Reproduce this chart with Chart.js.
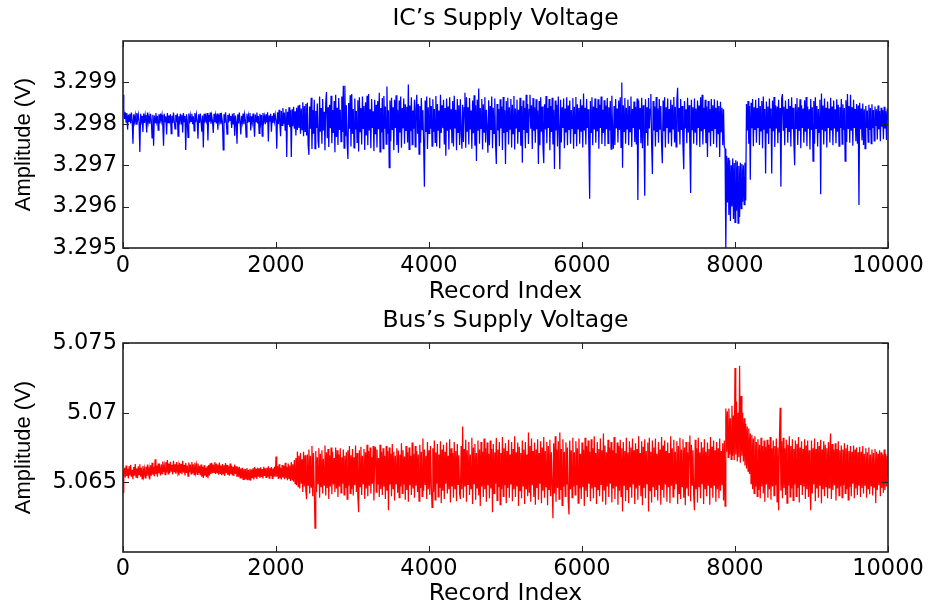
<!DOCTYPE html>
<html>
<head>
<meta charset="utf-8">
<script src="https://cdn.jsdelivr.net/npm/chart.js@4"></script>
<style>
  body { margin: 0; background: #fff; }
  .panel { position: absolute; left: 0; }
</style>
</head>
<body>
<div class="panel" style="top:0"><canvas id="icChart" width="928" height="306"></canvas></div>
<div class="panel" style="top:306px"><canvas id="busChart" width="928" height="302"></canvas></div>
<script>
// one sample every 10 records, 0 .. 10000 (each line = 100 records)
const STEP = 10;

// IC's supply voltage (V)
const icVoltage = [
  3.29870, 3.29835, 3.29812, 3.29828, 3.29804, 3.29826, 3.29786, 3.29822, 3.29806, 3.29824,
  3.29801, 3.29827, 3.29808, 3.29752, 3.29823, 3.29805, 3.29820, 3.29799, 3.29826, 3.29809,
  3.29822, 3.29803, 3.29732, 3.29824, 3.29807, 3.29819, 3.29780, 3.29825, 3.29802, 3.29821,
  3.29806, 3.29779, 3.29827, 3.29804, 3.29818, 3.29800, 3.29824, 3.29808, 3.29766, 3.29822,
  3.29747, 3.29820, 3.29803, 3.29826, 3.29806, 3.29819, 3.29785, 3.29823, 3.29801, 3.29825,
  3.29807, 3.29821, 3.29798, 3.29747, 3.29824, 3.29805, 3.29818, 3.29774, 3.29826, 3.29803,
  3.29820, 3.29808, 3.29823, 3.29776, 3.29819, 3.29802, 3.29827, 3.29806, 3.29788, 3.29821,
  3.29804, 3.29825, 3.29770, 3.29818, 3.29807, 3.29824, 3.29800, 3.29822, 3.29779, 3.29826,
  3.29805, 3.29819, 3.29737, 3.29823, 3.29808, 3.29767, 3.29825, 3.29801, 3.29820, 3.29806,
  3.29824, 3.29799, 3.29818, 3.29783, 3.29826, 3.29804, 3.29822, 3.29807, 3.29764, 3.29823,
  3.29802, 3.29825, 3.29806, 3.29781, 3.29820, 3.29743, 3.29824, 3.29803, 3.29818, 3.29808,
  3.29826, 3.29760, 3.29821, 3.29805, 3.29827, 3.29800, 3.29819, 3.29806, 3.29778, 3.29824,
  3.29804, 3.29820, 3.29801, 3.29825, 3.29786, 3.29822, 3.29807, 3.29826, 3.29799, 3.29818,
  3.29805, 3.29737, 3.29823, 3.29802, 3.29828, 3.29806, 3.29775, 3.29821, 3.29803, 3.29825,
  3.29808, 3.29819, 3.29790, 3.29824, 3.29800, 3.29826, 3.29771, 3.29820, 3.29805, 3.29752,
  3.29823, 3.29801, 3.29827, 3.29806, 3.29774, 3.29819, 3.29804, 3.29825, 3.29799, 3.29822,
  3.29807, 3.29768, 3.29824, 3.29802, 3.29820, 3.29806, 3.29826, 3.29784, 3.29818, 3.29803,
  3.29825, 3.29800, 3.29769, 3.29822, 3.29805, 3.29827, 3.29801, 3.29819, 3.29777, 3.29824,
  3.29804, 3.29821, 3.29770, 3.29826, 3.29806, 3.29818, 3.29799, 3.29823, 3.29803, 3.29828,
  3.29757, 3.29820, 3.29805, 3.29824, 3.29781, 3.29819, 3.29802, 3.29826, 3.29806, 3.29822,
  3.29808, 3.29740, 3.29828, 3.29799, 3.29834, 3.29802, 3.29770, 3.29831, 3.29796, 3.29838,
  3.29800, 3.29827, 3.29785, 3.29836, 3.29720, 3.29829, 3.29797, 3.29840, 3.29792, 3.29833,
  3.29720, 3.29835, 3.29794, 3.29841, 3.29788, 3.29830, 3.29772, 3.29839, 3.29785, 3.29844,
  3.29790, 3.29846, 3.29776, 3.29837, 3.29786, 3.29852, 3.29770, 3.29843, 3.29782, 3.29848,
  3.29772, 3.29851, 3.29748, 3.29725, 3.29842, 3.29788, 3.29863, 3.29739, 3.29833, 3.29776,
  3.29858, 3.29740, 3.29831, 3.29790, 3.29849, 3.29758, 3.29742, 3.29866, 3.29781, 3.29838,
  3.29752, 3.29860, 3.29784, 3.29829, 3.29736, 3.29851, 3.29877, 3.29765, 3.29840, 3.29744,
  3.29846, 3.29789, 3.29868, 3.29753, 3.29833, 3.29778, 3.29855, 3.29731, 3.29870, 3.29768,
  3.29839, 3.29749, 3.29862, 3.29785, 3.29834, 3.29757, 3.29866, 3.29780, 3.29892, 3.29741,
  3.29892, 3.29770, 3.29845, 3.29752, 3.29715, 3.29850, 3.29788, 3.29869, 3.29745, 3.29872,
  3.29776, 3.29836, 3.29742, 3.29861, 3.29786, 3.29831, 3.29755, 3.29857, 3.29733, 3.29864,
  3.29781, 3.29838, 3.29750, 3.29866, 3.29789, 3.29843, 3.29737, 3.29852, 3.29772, 3.29868,
  3.29748, 3.29872, 3.29784, 3.29835, 3.29741, 3.29860, 3.29790, 3.29830, 3.29734, 3.29858,
  3.29775, 3.29846, 3.29743, 3.29855, 3.29787, 3.29875, 3.29732, 3.29838, 3.29779, 3.29862,
  3.29740, 3.29867, 3.29788, 3.29842, 3.29751, 3.29890, 3.29776, 3.29833, 3.29694, 3.29856,
  3.29758, 3.29863, 3.29785, 3.29840, 3.29736, 3.29858, 3.29790, 3.29869, 3.29749, 3.29834,
  3.29730, 3.29856, 3.29779, 3.29866, 3.29742, 3.29838, 3.29789, 3.29861, 3.29752, 3.29847,
  3.29784, 3.29841, 3.29755, 3.29895, 3.29738, 3.29844, 3.29782, 3.29864, 3.29750, 3.29832,
  3.29788, 3.29858, 3.29744, 3.29837, 3.29870, 3.29776, 3.29848, 3.29727, 3.29843, 3.29754,
  3.29862, 3.29786, 3.29833, 3.29748, 3.29648, 3.29856, 3.29780, 3.29866, 3.29739, 3.29840,
  3.29777, 3.29863, 3.29788, 3.29843, 3.29746, 3.29859, 3.29781, 3.29836, 3.29755, 3.29867,
  3.29745, 3.29848, 3.29785, 3.29832, 3.29741, 3.29870, 3.29778, 3.29845, 3.29789, 3.29858,
  3.29750, 3.29838, 3.29723, 3.29861, 3.29783, 3.29842, 3.29738, 3.29864, 3.29786, 3.29835,
  3.29753, 3.29855, 3.29745, 3.29868, 3.29790, 3.29834, 3.29736, 3.29860, 3.29779, 3.29845,
  3.29749, 3.29859, 3.29784, 3.29740, 3.29846, 3.29756, 3.29839, 3.29875, 3.29742, 3.29864,
  3.29781, 3.29840, 3.29750, 3.29862, 3.29786, 3.29832, 3.29740, 3.29856, 3.29777, 3.29869,
  3.29747, 3.29845, 3.29710, 3.29858, 3.29783, 3.29885, 3.29752, 3.29838, 3.29789, 3.29860,
  3.29738, 3.29847, 3.29780, 3.29864, 3.29755, 3.29834, 3.29790, 3.29730, 3.29857, 3.29748,
  3.29843, 3.29785, 3.29866, 3.29741, 3.29839, 3.29777, 3.29861, 3.29752, 3.29703, 3.29848,
  3.29784, 3.29836, 3.29746, 3.29859, 3.29789, 3.29842, 3.29737, 3.29865, 3.29778, 3.29833,
  3.29703, 3.29855, 3.29782, 3.29863, 3.29750, 3.29840, 3.29787, 3.29860, 3.29743, 3.29846,
  3.29776, 3.29867, 3.29738, 3.29837, 3.29790, 3.29858, 3.29752, 3.29834, 3.29780, 3.29863,
  3.29747, 3.29843, 3.29706, 3.29856, 3.29785, 3.29839, 3.29741, 3.29870, 3.29778, 3.29848,
  3.29751, 3.29835, 3.29870, 3.29788, 3.29845, 3.29739, 3.29862, 3.29783, 3.29840, 3.29754,
  3.29859, 3.29787, 3.29832, 3.29703, 3.29855, 3.29748, 3.29864, 3.29781, 3.29842, 3.29743,
  3.29705, 3.29847, 3.29786, 3.29867, 3.29753, 3.29838, 3.29790, 3.29860, 3.29736, 3.29843,
  3.29780, 3.29863, 3.29750, 3.29834, 3.29691, 3.29856, 3.29784, 3.29846, 3.29745, 3.29866,
  3.29788, 3.29690, 3.29858, 3.29755, 3.29840, 3.29790, 3.29861, 3.29741, 3.29837, 3.29779,
  3.29864, 3.29748, 3.29844, 3.29785, 3.29856, 3.29752, 3.29833, 3.29789, 3.29862, 3.29740,
  3.29841, 3.29777, 3.29865, 3.29746, 3.29847, 3.29788, 3.29838, 3.29752, 3.29859, 3.29781,
  3.29845, 3.29743, 3.29873, 3.29784, 3.29839, 3.29750, 3.29860, 3.29790, 3.29835, 3.29738,
  3.29619, 3.29855, 3.29779, 3.29864, 3.29748, 3.29842, 3.29786, 3.29861, 3.29754, 3.29838,
  3.29782, 3.29859, 3.29740, 3.29846, 3.29790, 3.29866, 3.29751, 3.29834, 3.29778, 3.29857,
  3.29746, 3.29844, 3.29787, 3.29862, 3.29753, 3.29840, 3.29784, 3.29855, 3.29739, 3.29868,
  3.29780, 3.29740, 3.29843, 3.29749, 3.29860, 3.29789, 3.29837, 3.29755, 3.29856, 3.29785,
  3.29864, 3.29743, 3.29900, 3.29694, 3.29845, 3.29782, 3.29862, 3.29752, 3.29839, 3.29788,
  3.29858, 3.29748, 3.29843, 3.29781, 3.29866, 3.29744, 3.29836, 3.29790, 3.29854, 3.29756,
  3.29841, 3.29750, 3.29861, 3.29616, 3.29856, 3.29786, 3.29838, 3.29753, 3.29863, 3.29741,
  3.29845, 3.29783, 3.29626, 3.29859, 3.29778, 3.29840, 3.29747, 3.29862, 3.29789, 3.29835,
  3.29872, 3.29752, 3.29679, 3.29855, 3.29784, 3.29842, 3.29745, 3.29865, 3.29780, 3.29837,
  3.29754, 3.29860, 3.29787, 3.29843, 3.29749, 3.29705, 3.29856, 3.29782, 3.29864, 3.29743,
  3.29840, 3.29790, 3.29861, 3.29752, 3.29836, 3.29779, 3.29858, 3.29746, 3.29846, 3.29788,
  3.29865, 3.29755, 3.29841, 3.29744, 3.29856, 3.29887, 3.29781, 3.29838, 3.29750, 3.29860,
  3.29785, 3.29843, 3.29746, 3.29690, 3.29855, 3.29789, 3.29835, 3.29753, 3.29863, 3.29779,
  3.29845, 3.29741, 3.29633, 3.29858, 3.29786, 3.29840, 3.29752, 3.29861, 3.29780, 3.29837,
  3.29748, 3.29856, 3.29790, 3.29844, 3.29744, 3.29864, 3.29782, 3.29870, 3.29750, 3.29839,
  3.29787, 3.29858, 3.29753, 3.29842, 3.29720, 3.29855, 3.29779, 3.29836, 3.29746, 3.29860,
  3.29784, 3.29845, 3.29751, 3.29859, 3.29789, 3.29839, 3.29743, 3.29856, 3.29776, 3.29843,
  3.29720, 3.29853, 3.29781, 3.29839, 3.29748, 3.29835, 3.29744, 3.29740, 3.29500, 3.29722,
  3.29610, 3.29718, 3.29580, 3.29712, 3.29565, 3.29700, 3.29600, 3.29716, 3.29570, 3.29705,
  3.29562, 3.29712, 3.29590, 3.29709, 3.29560, 3.29698, 3.29575, 3.29706, 3.29595, 3.29703,
  3.29612, 3.29700, 3.29605, 3.29706, 3.29615, 3.29848, 3.29784, 3.29855, 3.29752, 3.29843,
  3.29665, 3.29851, 3.29789, 3.29860, 3.29746, 3.29840, 3.29785, 3.29858, 3.29754, 3.29838,
  3.29790, 3.29862, 3.29749, 3.29843, 3.29783, 3.29855, 3.29741, 3.29866, 3.29787, 3.29836,
  3.29680, 3.29854, 3.29778, 3.29842, 3.29751, 3.29861, 3.29790, 3.29837, 3.29680, 3.29856,
  3.29782, 3.29865, 3.29744, 3.29845, 3.29789, 3.29842, 3.29753, 3.29858, 3.29779, 3.29838,
  3.29648, 3.29861, 3.29872, 3.29785, 3.29841, 3.29748, 3.29856, 3.29790, 3.29836, 3.29754,
  3.29860, 3.29780, 3.29843, 3.29745, 3.29864, 3.29787, 3.29839, 3.29752, 3.29700, 3.29848,
  3.29789, 3.29862, 3.29749, 3.29840, 3.29783, 3.29859, 3.29741, 3.29845, 3.29790, 3.29837,
  3.29754, 3.29857, 3.29781, 3.29865, 3.29746, 3.29842, 3.29788, 3.29835, 3.29738, 3.29860,
  3.29785, 3.29840, 3.29710, 3.29855, 3.29752, 3.29864, 3.29789, 3.29843, 3.29745, 3.29836,
  3.29779, 3.29858, 3.29630, 3.29873, 3.29787, 3.29844, 3.29750, 3.29861, 3.29782, 3.29839,
  3.29743, 3.29854, 3.29790, 3.29837, 3.29755, 3.29863, 3.29784, 3.29842, 3.29748, 3.29856,
  3.29789, 3.29835, 3.29753, 3.29859, 3.29781, 3.29846, 3.29746, 3.29840, 3.29790, 3.29860,
  3.29751, 3.29847, 3.29785, 3.29838, 3.29710, 3.29857, 3.29756, 3.29872, 3.29789, 3.29843,
  3.29754, 3.29870, 3.29783, 3.29840, 3.29747, 3.29858, 3.29790, 3.29836, 3.29758, 3.29848,
  3.29752, 3.29844, 3.29604, 3.29851, 3.29787, 3.29837, 3.29760, 3.29849, 3.29749, 3.29835,
  3.29740, 3.29843, 3.29790, 3.29832, 3.29756, 3.29846, 3.29785, 3.29838, 3.29752, 3.29847,
  3.29790, 3.29833, 3.29759, 3.29842, 3.29795, 3.29835, 3.29762, 3.29844, 3.29787, 3.29831,
  3.29758, 3.29839, 3.29793, 3.29833, 3.29763, 3.29841, 3.29789, 3.29830, 3.29761, 3.29837,
  3.29808
];

// Bus's supply voltage (V)
const busVoltage = [
  5.06430, 5.06560, 5.06605, 5.06535, 5.06620, 5.06545, 5.06598, 5.06528, 5.06615, 5.06550,
  5.06625, 5.06540, 5.06590, 5.06522, 5.06610, 5.06548, 5.06632, 5.06537, 5.06600, 5.06530,
  5.06615, 5.06555, 5.06630, 5.06540, 5.06605, 5.06525, 5.06618, 5.06550, 5.06595, 5.06532,
  5.06612, 5.06545, 5.06628, 5.06560, 5.06600, 5.06520, 5.06622, 5.06548, 5.06640, 5.06555,
  5.06610, 5.06543, 5.06665, 5.06558, 5.06620, 5.06540, 5.06635, 5.06565, 5.06605, 5.06550,
  5.06630, 5.06562, 5.06650, 5.06575, 5.06620, 5.06555, 5.06645, 5.06570, 5.06660, 5.06560,
  5.06635, 5.06568, 5.06648, 5.06580, 5.06625, 5.06557, 5.06655, 5.06573, 5.06630, 5.06562,
  5.06645, 5.06578, 5.06620, 5.06550, 5.06640, 5.06565, 5.06632, 5.06558, 5.06655, 5.06570,
  5.06625, 5.06550, 5.06638, 5.06567, 5.06620, 5.06545, 5.06642, 5.06572, 5.06628, 5.06560,
  5.06646, 5.06566, 5.06630, 5.06555, 5.06640, 5.06575, 5.06622, 5.06558, 5.06635, 5.06565,
  5.06618, 5.06552, 5.06628, 5.06540, 5.06612, 5.06532, 5.06622, 5.06548, 5.06605, 5.06538,
  5.06615, 5.06530, 5.06625, 5.06548, 5.06636, 5.06560, 5.06640, 5.06565, 5.06628, 5.06572,
  5.06645, 5.06560, 5.06635, 5.06570, 5.06628, 5.06555, 5.06642, 5.06565, 5.06620, 5.06552,
  5.06632, 5.06560, 5.06622, 5.06545, 5.06638, 5.06565, 5.06625, 5.06553, 5.06615, 5.06548,
  5.06635, 5.06558, 5.06620, 5.06550, 5.06612, 5.06545, 5.06628, 5.06560, 5.06615, 5.06538,
  5.06608, 5.06540, 5.06612, 5.06532, 5.06600, 5.06528, 5.06605, 5.06522, 5.06598, 5.06518,
  5.06595, 5.06525, 5.06602, 5.06515, 5.06590, 5.06520, 5.06598, 5.06512, 5.06592, 5.06530,
  5.06600, 5.06520, 5.06610, 5.06535, 5.06598, 5.06525, 5.06605, 5.06540, 5.06600, 5.06532,
  5.06608, 5.06538, 5.06596, 5.06528, 5.06612, 5.06545, 5.06600, 5.06535, 5.06605, 5.06540,
  5.06615, 5.06530, 5.06602, 5.06545, 5.06610, 5.06528, 5.06600, 5.06538, 5.06612, 5.06540,
  5.06686, 5.06540, 5.06615, 5.06525, 5.06630, 5.06530, 5.06605, 5.06520, 5.06625, 5.06535,
  5.06618, 5.06522, 5.06640, 5.06530, 5.06612, 5.06515, 5.06635, 5.06528, 5.06620, 5.06510,
  5.06645, 5.06520, 5.06630, 5.06505, 5.06660, 5.06490, 5.06675, 5.06480, 5.06721, 5.06470,
  5.06690, 5.06455, 5.06710, 5.06490, 5.06665, 5.06430, 5.06720, 5.06470, 5.06695, 5.06440,
  5.06379, 5.06700, 5.06480, 5.06735, 5.06420, 5.06690, 5.06465, 5.06760, 5.06400, 5.06710,
  5.06455, 5.06171, 5.06725, 5.06430, 5.06680, 5.06490, 5.06745, 5.06390, 5.06705, 5.06470,
  5.06730, 5.06420, 5.06670, 5.06480, 5.06765, 5.06405, 5.06715, 5.06460, 5.06740, 5.06380,
  5.06695, 5.06470, 5.06750, 5.06415, 5.06720, 5.06485, 5.06675, 5.06430, 5.06750, 5.06455,
  5.06730, 5.06395, 5.06700, 5.06470, 5.06745, 5.06425, 5.06680, 5.06490, 5.06735, 5.06410,
  5.06690, 5.06460, 5.06715, 5.06380, 5.06730, 5.06475, 5.06760, 5.06420, 5.06695, 5.06450,
  5.06740, 5.06405, 5.06680, 5.06480, 5.06765, 5.06430, 5.06710, 5.06395, 5.06286, 5.06730,
  5.06470, 5.06755, 5.06410, 5.06690, 5.06490, 5.06740, 5.06380, 5.06715, 5.06455, 5.06770,
  5.06400, 5.06725, 5.06475, 5.06750, 5.06420, 5.06680, 5.06490, 5.06760, 5.06370, 5.06715,
  5.06755, 5.06430, 5.06735, 5.06485, 5.06675, 5.06395, 5.06770, 5.06450, 5.06720, 5.06410,
  5.06745, 5.06470, 5.06690, 5.06380, 5.06760, 5.06440, 5.06725, 5.06300, 5.06750, 5.06485,
  5.06705, 5.06400, 5.06775, 5.06455, 5.06720, 5.06370, 5.06690, 5.06490, 5.06745, 5.06425,
  5.06729, 5.06390, 5.06700, 5.06470, 5.06780, 5.06420, 5.06730, 5.06485, 5.06685, 5.06375,
  5.06760, 5.06445, 5.06715, 5.06360, 5.06750, 5.06480, 5.06690, 5.06410, 5.06785, 5.06455,
  5.06705, 5.06390, 5.06760, 5.06475, 5.06725, 5.06430, 5.06700, 5.06365, 5.06770, 5.06460,
  5.06720, 5.06400, 5.06814, 5.06440, 5.06735, 5.06485, 5.06690, 5.06380, 5.06790, 5.06450,
  5.06730, 5.06410, 5.06760, 5.06480, 5.06320, 5.06745, 5.06430, 5.06800, 5.06375, 5.06715,
  5.06490, 5.06775, 5.06395, 5.06700, 5.06460, 5.06795, 5.06350, 5.06735, 5.06440, 5.06770,
  5.06380, 5.06720, 5.06490, 5.06785, 5.06420, 5.06690, 5.06450, 5.06810, 5.06355, 5.06745,
  5.06470, 5.06710, 5.06390, 5.06790, 5.06455, 5.06725, 5.06365, 5.06775, 5.06485, 5.06695,
  5.06420, 5.06380, 5.06760, 5.06450, 5.06900, 5.06390, 5.06740, 5.06470, 5.06805, 5.06360,
  5.06730, 5.06485, 5.06790, 5.06410, 5.06700, 5.06455, 5.06820, 5.06345, 5.06750, 5.06490,
  5.06775, 5.06375, 5.06710, 5.06460, 5.06800, 5.06405, 5.06735, 5.06330, 5.06790, 5.06470,
  5.06720, 5.06395, 5.06815, 5.06450, 5.06745, 5.06360, 5.06785, 5.06480, 5.06705, 5.06385,
  5.06800, 5.06455, 5.06740, 5.06286, 5.06775, 5.06420, 5.06715, 5.06490, 5.06820, 5.06370,
  5.06735, 5.06465, 5.06790, 5.06340, 5.06710, 5.06450, 5.06825, 5.06400, 5.06745, 5.06480,
  5.06780, 5.06350, 5.06725, 5.06460, 5.06805, 5.06390, 5.06700, 5.06485, 5.06790, 5.06365,
  5.06740, 5.06450, 5.06830, 5.06395, 5.06715, 5.06470, 5.06785, 5.06330, 5.06755, 5.06440,
  5.06710, 5.06385, 5.06800, 5.06475, 5.06735, 5.06345, 5.06790, 5.06455, 5.06700, 5.06400,
  5.06857, 5.06430, 5.06760, 5.06360, 5.06815, 5.06480, 5.06725, 5.06395, 5.06785, 5.06340,
  5.06735, 5.06460, 5.06810, 5.06375, 5.06710, 5.06490, 5.06795, 5.06350, 5.06750, 5.06440,
  5.06825, 5.06390, 5.06725, 5.06470, 5.06790, 5.06335, 5.06760, 5.06450, 5.06805, 5.06400,
  5.06715, 5.06485, 5.06243, 5.06780, 5.06420, 5.06830, 5.06360, 5.06735, 5.06460, 5.06795,
  5.06380, 5.06857, 5.06445, 5.06740, 5.06335, 5.06810, 5.06470, 5.06720, 5.06400, 5.06785,
  5.06485, 5.06750, 5.06365, 5.06270, 5.06800, 5.06450, 5.06730, 5.06390, 5.06820, 5.06470,
  5.06715, 5.06410, 5.06795, 5.06480, 5.06745, 5.06350, 5.06815, 5.06455, 5.06705, 5.06380,
  5.06785, 5.06465, 5.06735, 5.06330, 5.06820, 5.06440, 5.06760, 5.06395, 5.06800, 5.06490,
  5.06720, 5.06365, 5.06810, 5.06455, 5.06745, 5.06385, 5.06830, 5.06470, 5.06710, 5.06345,
  5.06790, 5.06450, 5.06740, 5.06400, 5.06815, 5.06485, 5.06730, 5.06360, 5.06850, 5.06445,
  5.06765, 5.06340, 5.06715, 5.06470, 5.06805, 5.06395, 5.06750, 5.06490, 5.06790, 5.06355,
  5.06730, 5.06455, 5.06825, 5.06380, 5.06710, 5.06470, 5.06785, 5.06340, 5.06760, 5.06440,
  5.06805, 5.06400, 5.06745, 5.06290, 5.06790, 5.06480, 5.06725, 5.06365, 5.06820, 5.06450,
  5.06715, 5.06350, 5.06795, 5.06470, 5.06750, 5.06390, 5.06815, 5.06485, 5.06730, 5.06345,
  5.06780, 5.06455, 5.06740, 5.06375, 5.06830, 5.06475, 5.06710, 5.06400, 5.06795, 5.06335,
  5.06755, 5.06460, 5.06810, 5.06385, 5.06725, 5.06490, 5.06785, 5.06290, 5.06820, 5.06440,
  5.06720, 5.06355, 5.06800, 5.06470, 5.06750, 5.06395, 5.06815, 5.06450, 5.06705, 5.06370,
  5.06790, 5.06480, 5.06735, 5.06340, 5.06825, 5.06445, 5.06765, 5.06390, 5.06800, 5.06485,
  5.06725, 5.06360, 5.06785, 5.06465, 5.06710, 5.06350, 5.06830, 5.06475, 5.06745, 5.06395,
  5.06805, 5.06450, 5.06720, 5.06490, 5.06795, 5.06345, 5.06760, 5.06420, 5.06820, 5.06380,
  5.06735, 5.06470, 5.06810, 5.06390, 5.06750, 5.06335, 5.06790, 5.06455, 5.06715, 5.06400,
  5.06785, 5.06836, 5.06365, 5.06770, 5.06480, 5.06730, 5.06410, 5.06300, 5.06805, 5.06450,
  5.06745, 5.06355, 5.06820, 5.06470, 5.06715, 5.06385, 5.06790, 5.06490, 5.06750, 5.06345,
  5.06810, 5.06455, 5.06720, 5.06400, 5.06785, 5.06480, 5.06740, 5.06340, 5.06825, 5.06460,
  5.06755, 5.06390, 5.06800, 5.06475, 5.06730, 5.06360, 5.06790, 5.06450, 5.06745, 5.06385,
  5.06815, 5.06440, 5.06725, 5.06480, 5.06780, 5.06370, 5.06800, 5.06330, 5.07030, 5.06720,
  5.07010, 5.06680, 5.07030, 5.06700, 5.06960, 5.06665, 5.07050, 5.06690, 5.06980, 5.06660,
  5.07321, 5.06700, 5.07080, 5.06650, 5.07000, 5.06680, 5.07336, 5.06640, 5.07120, 5.06690,
  5.07000, 5.06650, 5.06960, 5.06620, 5.06920, 5.06600, 5.06900, 5.06580, 5.06886, 5.06560,
  5.06850, 5.06490, 5.06840, 5.06450, 5.06815, 5.06420, 5.06830, 5.06470, 5.06790, 5.06400,
  5.06810, 5.06445, 5.06770, 5.06385, 5.06820, 5.06470, 5.06760, 5.06420, 5.06800, 5.06360,
  5.06755, 5.06485, 5.06805, 5.06390, 5.06770, 5.06450, 5.06825, 5.06375, 5.06745, 5.06470,
  5.06800, 5.06405, 5.06760, 5.06480, 5.06815, 5.06360, 5.06750, 5.06300, 5.06790, 5.07036,
  5.06440, 5.06795, 5.06385, 5.06820, 5.06460, 5.06745, 5.06410, 5.06805, 5.06350, 5.06770,
  5.06475, 5.06830, 5.06395, 5.06760, 5.06455, 5.06810, 5.06370, 5.06740, 5.06485, 5.06800,
  5.06400, 5.06775, 5.06460, 5.06825, 5.06355, 5.06750, 5.06480, 5.06795, 5.06410, 5.06740,
  5.06470, 5.06810, 5.06380, 5.06765, 5.06450, 5.06800, 5.06395, 5.06730, 5.06460, 5.06300,
  5.06800, 5.06420, 5.06745, 5.06485, 5.06815, 5.06365, 5.06740, 5.06455, 5.06790, 5.06390,
  5.06760, 5.06475, 5.06805, 5.06350, 5.06735, 5.06450, 5.06795, 5.06400, 5.06770, 5.06470,
  5.06745, 5.06385, 5.06790, 5.06460, 5.06750, 5.06850, 5.06380, 5.06775, 5.06445, 5.06735,
  5.06480, 5.06780, 5.06370, 5.06740, 5.06455, 5.06795, 5.06405, 5.06730, 5.06470, 5.06765,
  5.06390, 5.06735, 5.06480, 5.06780, 5.06420, 5.06745, 5.06450, 5.06770, 5.06375, 5.06725,
  5.06465, 5.06760, 5.06400, 5.06720, 5.06490, 5.06765, 5.06385, 5.06735, 5.06455, 5.06750,
  5.06410, 5.06715, 5.06475, 5.06755, 5.06395, 5.06720, 5.06460, 5.06760, 5.06420, 5.06705,
  5.06480, 5.06745, 5.06390, 5.06715, 5.06455, 5.06750, 5.06415, 5.06700, 5.06475, 5.06735,
  5.06405, 5.06710, 5.06465, 5.06740, 5.06350, 5.06720, 5.06445, 5.06705, 5.06480, 5.06730,
  5.06400, 5.06715, 5.06460, 5.06700, 5.06425, 5.06735, 5.06445, 5.06705, 5.06470, 5.06690,
  5.06550
];

const xTicks = [0, 2000, 4000, 6000, 8000, 10000];

const TEXT = '#000';
const tickFont = { family: 'DejaVu Sans', size: 22.5 };
const titleFont = { family: 'DejaVu Sans', size: 23.5 };

// MATLAB-like box with inward tick marks
const boxFrame = {
  id: 'boxFrame',
  afterDatasetsDraw(chart) {
    const { ctx, chartArea: a, scales: { x, y } } = chart;
    ctx.save();
    ctx.strokeStyle = '#222';
    ctx.lineWidth = 1;
    ctx.beginPath();
    x.ticks.forEach(t => {
      const px = Math.round(x.getPixelForValue(t.value)) + 0.5;
      ctx.moveTo(px, a.bottom); ctx.lineTo(px, a.bottom - 6);
      ctx.moveTo(px, a.top); ctx.lineTo(px, a.top + 6);
    });
    y.ticks.forEach(t => {
      const py = Math.round(y.getPixelForValue(t.value)) + 0.5;
      ctx.moveTo(a.left, py); ctx.lineTo(a.left + 6, py);
      ctx.moveTo(a.right, py); ctx.lineTo(a.right - 6, py);
    });
    ctx.stroke();
    ctx.lineWidth = 1.6;
    ctx.strokeRect(a.left, a.top, a.right - a.left, a.bottom - a.top);
    ctx.restore();
  }
};

function makeChart(id, values, color, title, yMin, yMax, yStep, keepTick, box) {
  const points = values.map((v, i) => ({ x: i * STEP, y: v }));
  return new Chart(document.getElementById(id), {
    type: 'line',
    data: {
      datasets: [{
        data: points,
        xAxisID: 'x',
        borderColor: color,
        borderWidth: 1.25,
        pointRadius: 0,
        tension: 0,
        fill: false
      }]
    },
    options: {
      responsive: false,
      animation: false,
      events: [],
      layout: { padding: { left: 0, right: 40, top: 0, bottom: 0 } },
      plugins: {
        legend: { display: false },
        tooltip: { enabled: false },
        title: { display: false }
      },
      scales: {
        x: {
          type: 'linear',
          min: 0,
          max: 10000,
          afterBuildTicks: s => { s.ticks = xTicks.map(v => ({ value: v })); },
          afterFit: s => { s.height = box.xHeight; s.paddingLeft = 0; s.paddingRight = 0; },
          grid: { display: false, drawTicks: false },
          border: { display: false },
          ticks: { color: TEXT, font: tickFont, padding: box.xTickPad, maxRotation: 0, callback: v => String(v) },
          title: { display: true, text: 'Record Index', color: TEXT, font: titleFont, padding: { top: 0, bottom: 0 } }
        },
        // top axis only carries the panel title, centred over the plot box
        top: {
          type: 'linear',
          position: 'top',
          min: 0,
          max: 10000,
          afterFit: s => { s.height = box.topHeight; s.paddingLeft = 0; s.paddingRight = 0; },
          grid: { display: false, drawTicks: false },
          border: { display: false },
          ticks: { display: false },
          title: { display: true, text: title, color: TEXT, font: titleFont, padding: { top: box.titleTop, bottom: 0 } }
        },
        y: {
          min: yMin,
          max: yMax,
          afterBuildTicks: s => {
            const vals = [];
            for (let v = yMin; v <= yMax + yStep / 2; v += yStep) vals.push(+v.toFixed(3));
            s.ticks = vals.filter(keepTick).map(v => ({ value: v }));
          },
          afterFit: s => { s.width = 123; s.paddingTop = 0; s.paddingBottom = 0; },
          grid: { display: false, drawTicks: false },
          border: { display: false },
          ticks: { color: TEXT, font: tickFont, padding: 6, callback: v => String(+v.toFixed(3)) },
          title: { display: true, text: 'Amplitude (V)', color: TEXT, font: { family: 'Liberation Sans', size: 22 }, padding: { top: 11, bottom: 0 } }
        }
      }
    },
    plugins: [boxFrame]
  });
}

makeChart('icChart', icVoltage, '#0000ff', 'IC\u2019s Supply Voltage',
  3.295, 3.300, 0.001, v => v < 3.2995,
  { topHeight: 41, titleTop: 4.7, xHeight: 58, xTickPad: 4.5 });

makeChart('busChart', busVoltage, '#ff0000', 'Bus\u2019s Supply Voltage',
  5.060, 5.075, 0.005, v => v > 5.0625,
  { topHeight: 37, titleTop: 0.7, xHeight: 56, xTickPad: 3.5 });
</script>
</body>
</html>
